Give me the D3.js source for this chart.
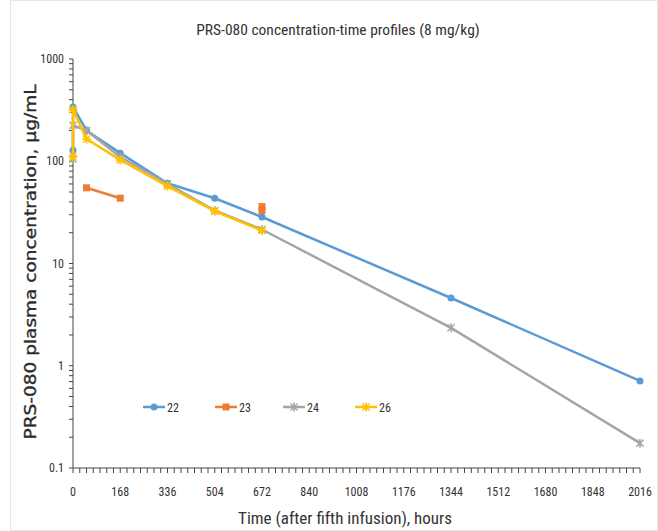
<!DOCTYPE html>
<html><head><meta charset="utf-8">
<script src="https://cdn.jsdelivr.net/npm/d3@7/dist/d3.min.js"></script>
<style>
body{margin:0;background:#fff;}
svg{display:block;}
text{font-family:"Liberation Sans Narrow","Roboto Condensed","Open Sans",sans-serif;fill:#333;}
</style></head>
<body><svg id="c" width="658" height="531"></svg>
<script>
const xTicks = [0,168,336,504,672,840,1008,1176,1344,1512,1680,1848,2016];
const yTicks = [0.1,1,10,100,1000];
const seriesNames = ["22","23","24","26"];
const colors = ["#5B9BD5","#ED7D31","#A5A5A5","#FFC000"];
const s22 = [[0,128],[0,340],[48,200],[168,120],[336,61],[504,43.5],[672,28.5],[1344,4.6],[2016,0.71]];
const s23a = [[48,55],[168,43.5]];
const s23b = [[672,36],[672,33]];
const s24 = [[0,105],[0,225],[48,200],[168,110],[336,60],[504,33],[672,21.5],[1344,2.35],[2016,0.175]];
const s26 = [[0,110],[0,320],[48,165],[168,103],[336,57],[504,32.5],[672,21]];

const svg = d3.select("#c");
svg.append("rect").attr("x",10.5).attr("y",0.5).attr("width",647).attr("height",530)
  .attr("fill","none").attr("stroke","#e6e6e6");

const x = d3.scaleLinear().domain([0,2016]).range([73,640]);
const y = d3.scaleLog().domain([0.1,1000]).range([468,59]);

svg.append("text").attr("x",338).attr("y",35).attr("text-anchor","middle")
  .style("font-size","15.5px").text("PRS-080 concentration-time profiles (8 mg/kg)");

const yMinor = [];
for (let d=0.1; d<1000; d*=10) for (let k=1;k<10;k++) yMinor.push(d*k);
yMinor.push(1000);
const ya = svg.append("g").attr("transform","translate(73,0)");
ya.append("line").attr("y1",y(1000)).attr("y2",y(0.1)).attr("stroke","#444");
ya.selectAll(".mt").data(yMinor).join("line").attr("x1",-4).attr("x2",0)
  .attr("y1",d=>y(d)).attr("y2",d=>y(d)).attr("stroke","#444");
ya.selectAll(".yl").data(yTicks).join("text").attr("x",-9).attr("y",d=>y(d)+4)
  .attr("text-anchor","end").style("font-size","12px").text(d=>d);

const xMinor = d3.range(0,2016+1,24);
const xa = svg.append("g").attr("transform","translate(0,468)");
xa.append("line").attr("x1",x(0)).attr("x2",x(2016)).attr("stroke","#444");
xa.selectAll(".mt").data(xMinor).join("line").attr("x1",d=>x(d)).attr("x2",d=>x(d))
  .attr("y1",0).attr("y2",5).attr("stroke","#444");
xa.selectAll(".xl").data(xTicks).join("text").attr("x",d=>x(d)).attr("y",28)
  .attr("text-anchor","middle").style("font-size","12px").text(d=>d);

svg.append("text").attr("x",345).attr("y",524).attr("text-anchor","middle")
  .style("font-size","17px").text("Time (after fifth infusion), hours");
svg.append("text").attr("transform","translate(36,262) rotate(-90)").attr("text-anchor","middle")
  .style("font-family","'DejaVu Sans',Verdana,sans-serif").style("font-size","16.5px").style("fill","#2a2a2a")
  .style("stroke","#2a2a2a").style("stroke-width","0.35")
  .attr("textLength",355).attr("lengthAdjust","spacingAndGlyphs")
  .text("PRS-080 plasma concentration, µg/mL");

const line = d3.line().x(d=>x(d[0])).y(d=>y(d[1]));

function marker(g, type, cx, cy, col){
  if(type===0){ g.append("circle").attr("cx",cx).attr("cy",cy).attr("r",3.5).attr("fill",col); }
  else if(type===1){ g.append("rect").attr("x",cx-3.5).attr("y",cy-3.5).attr("width",7).attr("height",7).attr("fill",col); }
  else if(type===2){
    g.append("path").attr("d",`M${cx-3.5},${cy-3.5}L${cx+3.5},${cy+3.5}M${cx-3.5},${cy+3.5}L${cx+3.5},${cy-3.5}M${cx},${cy-4.5}L${cx},${cy+4.5}`)
     .attr("stroke",col).attr("stroke-width",1.5);
  } else {
    g.append("path").attr("d",`M${cx-3.5},${cy-3.5}L${cx+3.5},${cy+3.5}M${cx-3.5},${cy+3.5}L${cx+3.5},${cy-3.5}M${cx-4.5},${cy}L${cx+4.5},${cy}M${cx},${cy-4.5}L${cx},${cy+4.5}`)
     .attr("stroke",col).attr("stroke-width",1.6);
  }
}

const groups = [[s22],[s23a,s23b],[s24],[s26]];
const plot = svg.append("g");
groups.forEach((arrs,i)=>{
  const g = plot.append("g");
  arrs.forEach(arr=>{
    g.append("path").attr("d",line(arr)).attr("fill","none").attr("stroke",colors[i])
      .attr("stroke-width",2.5).attr("stroke-linejoin","round");
    arr.forEach(d=>marker(g,i,x(d[0]),y(d[1]),colors[i]));
  });
});

const legX = [143,215,283,355];
const lg = svg.append("g");
seriesNames.forEach((n,i)=>{
  const g = lg.append("g");
  g.append("line").attr("x1",legX[i]).attr("x2",legX[i]+22).attr("y1",407).attr("y2",407)
    .attr("stroke",colors[i]).attr("stroke-width",2.5);
  marker(g,i,legX[i]+11,407,colors[i]);
  g.append("text").attr("x",legX[i]+24).attr("y",411.5).style("font-size","12px").text(n);
});
</script></body></html>
